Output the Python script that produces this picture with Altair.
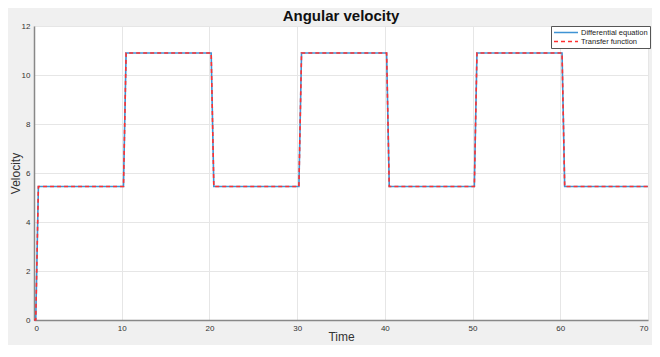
import altair as alt
import pandas as pd

# Breakpoints of the simulated angular velocity (both models give the same response)
time = [0, 0.2, 0.5, 10.2, 10.5, 20.2, 20.5, 30.2, 30.5, 40.2, 40.5, 50.2, 50.5, 60.2, 60.5, 70]
velocity = [0, 0, 5.45, 5.45, 10.9, 10.9, 5.45, 5.45, 10.9, 10.9, 5.45, 5.45, 10.9, 10.9, 5.45, 5.45]
series = ["Differential equation", "Transfer function"]
colors = ["#3f93d4", "#ff3030"]
dashes = [[1, 0], [4, 3]]

rows = []
for s in series:
    for i, (t, v) in enumerate(zip(time, velocity)):
        rows.append({"Time": t, "Velocity": v, "Series": s, "order": i})
df = pd.DataFrame(rows)

color_scale = alt.Scale(domain=series, range=colors)
dash_scale = alt.Scale(domain=series, range=dashes)

legend = alt.Legend(
    title=None, orient="none", legendX=517, legendY=0,
    symbolType="stroke", symbolSize=576, symbolStrokeWidth=1.5,
    labelFontSize=7.5, labelColor="#222", labelFont="Liberation Sans",
    fillColor="white", strokeColor="#555", padding=2, rowPadding=0,
    clipHeight=9, labelOffset=2, labelLimit=200,
)

chart = alt.Chart(df).mark_line(strokeWidth=1.6, interpolate="linear").encode(
    x=alt.X("Time:Q", scale=alt.Scale(domain=[0, 70], nice=False),
            axis=alt.Axis(values=[0, 10, 20, 30, 40, 50, 60, 70], title="Time",
                          titleY=11, titleBaseline="top")),
    y=alt.Y("Velocity:Q", scale=alt.Scale(domain=[0, 12], nice=False),
            axis=alt.Axis(values=[0, 2, 4, 6, 8, 10, 12], title="Velocity",
                          titleX=-12, titleBaseline="bottom")),
    color=alt.Color("Series:N", scale=color_scale, legend=legend),
    strokeDash=alt.StrokeDash("Series:N", scale=dash_scale, legend=legend),
    order="order:Q",
    detail="Series:N",
).properties(
    width=614, height=294,
    title=alt.TitleParams("Angular velocity", fontSize=15, fontWeight="bold",
                          font="Liberation Sans", color="#111", offset=0, dy=2,
                          anchor="middle"),
    autosize=alt.AutoSizeParams(type="none"),
    padding={"left": 26, "top": 18, "right": 4, "bottom": 25},
    background="#f0f0f0",
).configure_view(
    fill="white", stroke="#d9d9d9", strokeWidth=1,
).configure_axis(
    labelFont="Liberation Sans", labelFontSize=8, labelColor="#333",
    titleFont="Liberation Sans", titleFontSize=12, titleFontWeight="normal", titleColor="#333",
    gridColor="#e6e6e6", gridWidth=1,
    domainColor="#888", domainWidth=1.5,
    tickSize=0, labelPadding=4,
)

chart.save("out.html", embed_options={"renderer": "svg", "actions": False})
